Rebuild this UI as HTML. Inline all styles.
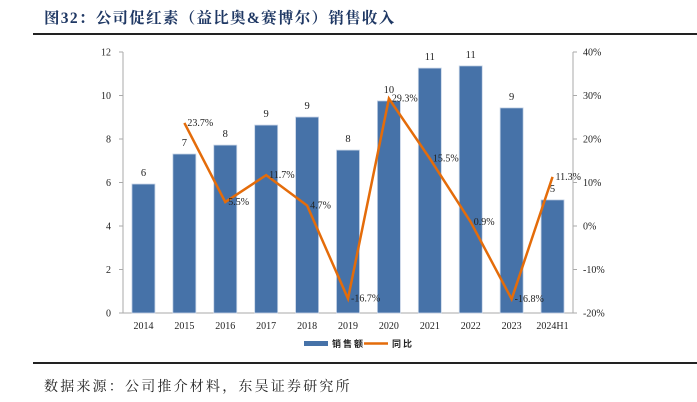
<!DOCTYPE html>
<html><head><meta charset="utf-8">
<style>
body{margin:0;background:#fff;width:697px;height:402px;overflow:hidden;font-family:"Liberation Serif","Noto Serif CJK SC",serif;}
#title{position:absolute;left:44px;top:6px;font-size:15.5px;font-weight:bold;color:#1f3864;font-family:"Liberation Serif","Noto Serif CJK SC",serif;letter-spacing:1.3px;}
#src{position:absolute;left:44px;top:376px;font-size:14px;color:#222;font-family:"Liberation Serif","Noto Serif CJK SC",serif;letter-spacing:2.2px;}
</style></head><body>
<div id="title">图32：公司促红素（益比奥&amp;赛博尔）销售收入</div>
<svg id="c" width="697" height="402" style="position:absolute;left:0;top:0"></svg>
<div id="src">数据来源：公司推介材料，东吴证券研究所</div>
<script>
const categories=["2014","2015","2016","2017","2018","2019","2020","2021","2022","2023","2024H1"];
const sales=[5.93,7.31,7.72,8.64,9.01,7.49,9.75,11.26,11.36,9.43,5.2];
const salesLabels=["6","7","8","9","9","8","10","11","11","9","5"];
const yoy=[null,23.7,5.5,11.7,4.7,-16.7,29.3,15.5,0.9,-16.8,11.3];
const leftTicks=[0,2,4,6,8,10,12];
const rightTicks=[-20,-10,0,10,20,30,40];
const NS="http://www.w3.org/2000/svg";
const svg=document.getElementById('c');
const X0=123,X1=573,Y0=313,Y1=52;
const band=(X1-X0)/categories.length;
const xc=i=>X0+band*(i+0.5);
const yl=v=>Y0-(v-0)/(12-0)*(Y0-Y1);
const yr=v=>Y0-(v+20)/60*(Y0-Y1);
function el(t,a,txt){const e=document.createElementNS(NS,t);for(const k in a)e.setAttribute(k,a[k]);if(txt!==undefined)e.textContent=txt;svg.appendChild(e);return e;}
let e;
e=el('line',{x1:33,y1:34,x2:697,y2:34,stroke:'#222','stroke-width':2});


e=el('line',{x1:33,y1:363,x2:697,y2:363,stroke:'#222','stroke-width':2});


e=el('line',{x1:X0,y1:Y0,x2:X1,y2:Y0,stroke:'#aaa','stroke-width':1});


e=el('line',{x1:X0,y1:Y1,x2:X0,y2:Y0,stroke:'#aaa','stroke-width':1});


e=el('line',{x1:X1,y1:Y1,x2:X1,y2:Y0,stroke:'#aaa','stroke-width':1});


leftTicks.forEach(v=>{
 e=el('line',{x1:X0-4,y1:yl(v),x2:X0,y2:yl(v),stroke:'#aaa'});
 
 
 e=el('text',{x:X0-12,y:yl(v)+3.5,'font-size':10,'text-anchor':'end',fill:'#222'},String(v));
 
 
});
rightTicks.forEach(v=>{
 e=el('line',{x1:X1,y1:yr(v),x2:X1+4,y2:yr(v),stroke:'#aaa'});
 
 
 e=el('text',{x:X1+10,y:yr(v)+3.5,'font-size':10,fill:'#222'},v+'%');
 
 
});
categories.forEach((c,i)=>{
 e=el('text',{x:xc(i),y:Y0+16,'font-size':10,'text-anchor':'middle',fill:'#222'},c);
 
 
});
const bw=23;
sales.forEach((v,i)=>{
 e=el('rect',{x:xc(i)-bw/2,y:yl(v),width:bw,height:Y0-yl(v),fill:'#4672a8',stroke:'#c6d3e6','stroke-width':0.8});
 
 
 e=el('text',{x:xc(i),y:yl(v)-8,'font-size':10.5,'text-anchor':'middle',fill:'#222'},salesLabels[i]);
 
 
});
let pts=[];
yoy.forEach((v,i)=>{if(v!==null)pts.push(xc(i)+','+yr(v));});
e=el('polyline',{points:pts.join(' '),fill:'none',stroke:'#e46c0a','stroke-width':2.5,'stroke-linejoin':'miter'});


yoy.forEach((v,i)=>{if(v===null)return;
 e=el('text',{x:xc(i)+3,y:yr(v)+3,'font-size':10,fill:'#222'},v.toFixed(1)+'%');
 
 
});
e=el('rect',{x:304,y:341,width:24,height:5,fill:'#4672a8'});


e=el('text',{x:332,y:347,'font-size':9,fill:'#222','font-weight':'bold','letter-spacing':2,'font-family':'"Noto Sans CJK SC",sans-serif'},'销售额');


e=el('line',{x1:364,y1:343.5,x2:388,y2:343.5,stroke:'#e46c0a','stroke-width':2.5});


e=el('text',{x:392,y:347,'font-size':9,fill:'#222','font-weight':'bold','letter-spacing':2,'font-family':'"Noto Sans CJK SC",sans-serif'},'同比');


</script>
</body></html>
